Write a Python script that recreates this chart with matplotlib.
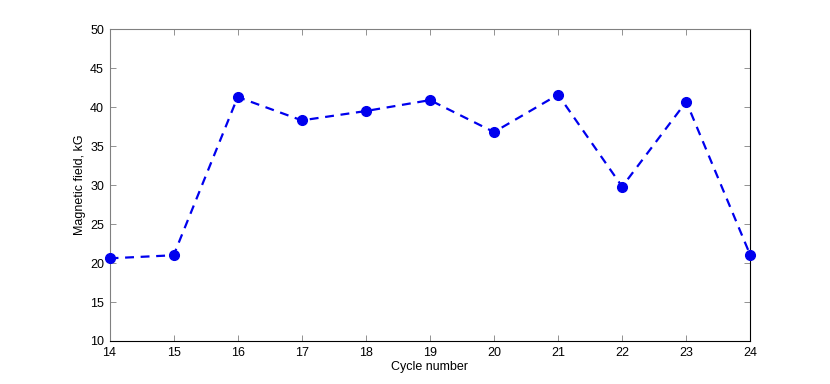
import matplotlib

matplotlib.use("Agg")
import matplotlib.pyplot as plt

cycles = [14, 15, 16, 17, 18, 19, 20, 21, 22, 23, 24]
field_kg = [20.6, 21.0, 41.3, 38.3, 39.5, 40.9, 36.8, 41.6, 29.8, 40.7, 21.0]

plt.rcParams["font.family"] = ["Liberation Sans", "DejaVu Sans"]
plt.rcParams["font.size"] = 9

fig = plt.figure(figsize=(8.3, 3.84), dpi=100)
ax = fig.add_axes([0.132, 0.112, 0.772, 0.812])
ax.plot(cycles, field_kg, "--", color="#0000ee", lw=1.6, dashes=(4, 3),
        marker="o", ms=7, mfc="#0000ee", mec="#0000ee", clip_on=False, zorder=3)

ax.set_xlim(14, 24)
ax.set_ylim(10, 50)
ax.set_xticks(range(14, 25))
ax.set_yticks(range(10, 51, 5))
ax.tick_params(direction="in", top=True, right=True, length=4, width=0.6,
               pad=4, color="#808080")
for side in ("left", "top"):
    ax.spines[side].set_color("#808080")
for s in ax.spines.values():
    s.set_linewidth(0.8)
ax.set_xlabel("Cycle number", labelpad=2)
ax.set_ylabel("Magnetic field, kG", labelpad=3)

fig.savefig("out.png", dpi=100)
